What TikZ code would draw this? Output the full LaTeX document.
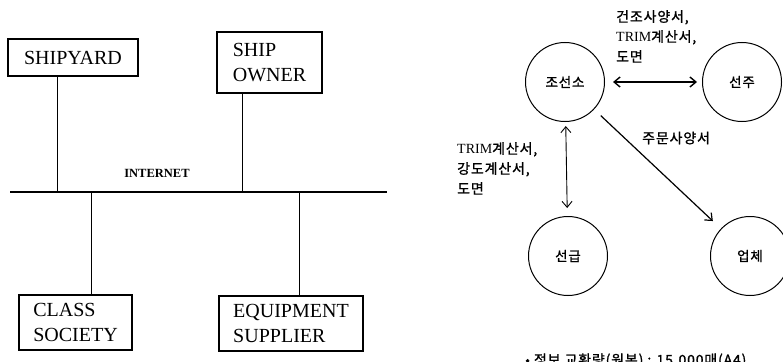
\documentclass[tikz,border=0pt]{standalone}
\usepackage{fontspec}
\setmainfont{Liberation Serif}
\newfontfamily\kr[LetterSpace=6, FakeBold=1.2]{Noto Sans CJK KR}
\usetikzlibrary{arrows.meta}
\tikzset{
  box/.style={draw, line width=1.2pt, inner sep=0pt, align=left,
    font=\fontsize{20}{25}\selectfont},
  ent/.style={draw, circle, line width=1pt, minimum size=79pt, inner sep=0pt,
    font=\kr\fontsize{13.5}{16}\selectfont},
  conn/.style={line width=1pt},
  lbl/.style={align=left, inner sep=0pt, font=\fontsize{14}{20}\selectfont},
  dbl/.style={{Straight Barb[length=6pt,width=10pt]}-{Straight Barb[length=6pt,width=10pt]}},
  sgl/.style={-{Straight Barb[length=6pt,width=10pt]}}
}
\begin{document}
\begin{tikzpicture}[x=1pt,y=-1pt]
\useasboundingbox (0,0) rectangle (783,361);
% ---- left: internet network ----
\coordinate (busL) at (10,192);
\coordinate (busR) at (387,192);
\draw[line width=2.6pt] (busL) -- (busR);
\node[font=\bfseries\fontsize{12.5}{13}\selectfont, inner sep=0pt] (inet) at (157,173) {INTERNET};

\node[box, minimum width=130pt, minimum height=37pt] (sy) at (73,57.5) {SHIPYARD};
\node[box, minimum width=105pt, minimum height=61pt] (so) at (269.5,62.5) {SHIP\\OWNER};
\node[box, minimum width=113pt, minimum height=55pt] (cs) at (75.5,322.5) {CLASS\\SOCIETY};
\node[box, minimum width=144pt, minimum height=55pt] (es) at (291,323.5) {EQUIPMENT\\SUPPLIER};

\coordinate (j1) at (57,192);
\coordinate (j2) at (242,192);
\coordinate (j3) at (91,192);
\coordinate (j4) at (299,192);
\draw[conn] (sy.south -| j1) -- (j1);
\draw[conn] (so.south -| j2) -- (j2);
\draw[conn] (j3) -- (cs.north -| j3);
\draw[conn] (j4) -- (es.north -| j4);

% ---- right: information flow ----
\node[ent] (js) at (565,82) {조선소};
\node[ent] (sj) at (742,82) {선주};
\node[ent] (sg) at (568,256) {선급};
\node[ent] (ub) at (750,256) {업체};

\draw[line width=1.4pt, dbl, shorten <=8pt, shorten >=5pt] (js) -- (sj);
\draw[line width=0.9pt, dbl, shorten <=4pt, shorten >=8pt] (js) -- (sg);
\draw[line width=1.2pt, sgl, shorten <=9pt, shorten >=11pt] (js) -- (ub);

\node[lbl, anchor=north west] (l1) at (616,10) {{\kr 건조사양서,}\\TRIM{\kr 계산서,}\\{\kr 도면}};
\node[lbl, anchor=north west] (l2) at (457,142) {TRIM{\kr 계산서,}\\{\kr 강도계산서,}\\{\kr 도면}};
\node[font=\kr\fontsize{14}{16}\selectfont, inner sep=0pt, anchor=west] (l3) at (642,138) {주문사양서};

\node[font=\kr\fontsize{14}{16}\selectfont, inner sep=0pt, anchor=base west] (note) at (525,365) {• 정보 교환량(원본) : 15,000매(A4)};
\end{tikzpicture}
\end{document}
